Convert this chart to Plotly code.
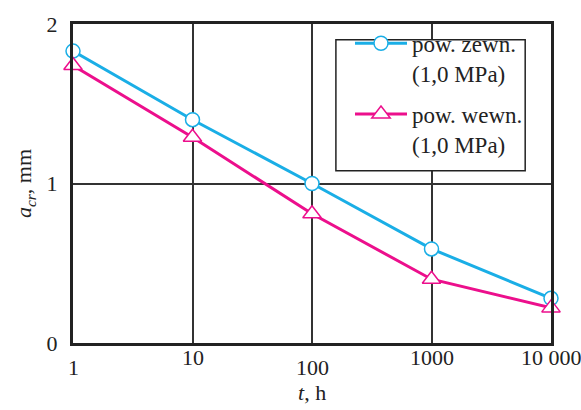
import plotly.graph_objects as go
import math

# Data
t_hours = [1, 10, 100, 1000, 10000]
zewn_acr = [1.83, 1.40, 1.00, 0.59, 0.28]
wewn_acr = [1.74, 1.29, 0.81, 0.40, 0.22]
x_tick_vals = [1, 10, 100, 1000, 10000]
x_tick_text = ["1", "10", "100", "1000", "10 000"]
y_tick_vals = [0, 1, 2]
name_zewn = "pow. zewn.<br>(1,0 MPa)"
name_wewn = "pow. wewn.<br>(1,0 MPa)"

BLUE = "#1aaee6"
PINK = "#ec0f8c"
FONT = "Liberation Serif"
FS = 22

fig = go.Figure()
fig.add_trace(go.Scatter(
    x=t_hours, y=zewn_acr, mode="lines+markers", name=name_zewn,
    legendgroup="a",
    line=dict(color=BLUE, width=3),
    marker=dict(symbol="circle", size=14, color="white",
                line=dict(color=BLUE, width=1.5)),
    cliponaxis=False,
))
fig.add_trace(go.Scatter(
    x=t_hours, y=wewn_acr, mode="lines+markers", name=name_wewn,
    legendgroup="b",
    line=dict(color=PINK, width=3),
    marker=dict(symbol="triangle-up", size=16, color="white",
                line=dict(color=PINK, width=1.5)),
    cliponaxis=False,
))

# staggered x tick labels
for i, (v, txt) in enumerate(zip(x_tick_vals, x_tick_text)):
    low = (i % 2 == 0) and txt != "10 000"
    fig.add_annotation(
        x=math.log10(v), y=0, xref="x", yref="paper",
        text=txt, showarrow=False, yanchor="top",
        yshift=-(10 if low else 0),
        font=dict(family=FONT, size=FS, color="#222"),
    )

fig.add_annotation(
    x=0.5, y=0, xref="paper", yref="paper", yanchor="top",
    text="<i>t</i>, h", showarrow=False, yshift=-35,
    font=dict(family=FONT, size=FS, color="#222"),
)

# legend frame
fig.add_shape(type="rect", xref="paper", yref="paper",
              x0=0.550, x1=0.946, y0=0.540, y1=0.951,
              line=dict(color="#222", width=1.5), fillcolor="white",
              layer="above")

fig.update_layout(
    width=581, height=410,
    margin=dict(l=73, r=30, t=17, b=67),
    paper_bgcolor="white", plot_bgcolor="white",
    font=dict(family=FONT, size=FS, color="#222"),
    showlegend=True,
    legend=dict(
        x=0.5795, y=1.007, xanchor="left", yanchor="top",
        borderwidth=0, bgcolor="rgba(0,0,0,0)",
        font=dict(family=FONT, size=23, color="#222"),
        traceorder="grouped", tracegroupgap=8,
        valign="top", itemwidth=52,
    ),
    xaxis=dict(
        type="log", range=[0, 4],
        tickvals=x_tick_vals, showticklabels=False,
        showgrid=True, gridcolor="#333", gridwidth=1.5,
        showline=True, linecolor="#222", linewidth=3, mirror=True,
        ticks="", zeroline=False,
    ),
    yaxis=dict(
        range=[0, 2], tickvals=y_tick_vals,
        showgrid=True, gridcolor="#333", gridwidth=1.5,
        showline=True, linecolor="#222", linewidth=3, mirror=True,
        ticks="", zeroline=False, ticklabelstandoff=8,
        tickfont=dict(family=FONT, size=FS, color="#222"),
        title=dict(text="<i>a</i><sub><i>cr</i></sub>, mm", standoff=9,
                   font=dict(family=FONT, size=FS, color="#222")),
    ),
)

fig.write_html("out.html")
